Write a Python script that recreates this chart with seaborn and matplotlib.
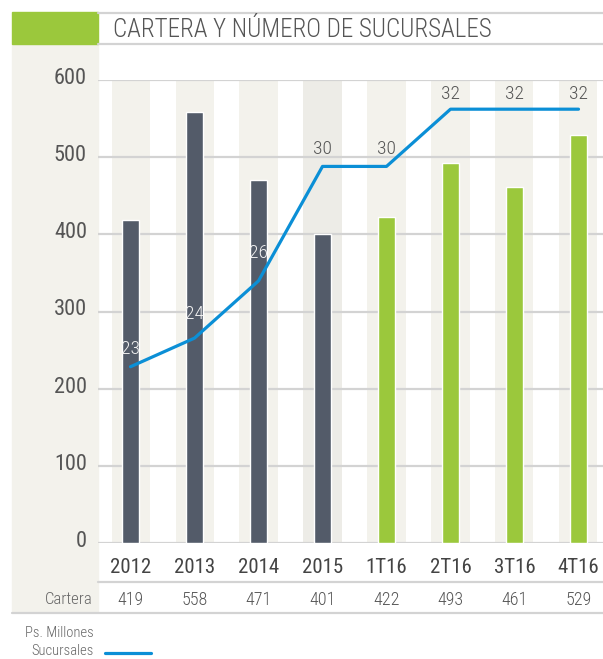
import numpy as np
import matplotlib
matplotlib.use("Agg")
import matplotlib.pyplot as plt
import seaborn as sns
from matplotlib import font_manager, transforms
from matplotlib.patches import Rectangle
from matplotlib.lines import Line2D

# ---- data ----
categories = ["2012", "2013", "2014", "2015", "1T16", "2T16", "3T16", "4T16"]
cartera = [419, 558, 471, 401, 422, 493, 461, 529]
sucursales = [23, 24, 26, 30, 30, 32, 32, 32]
periodo = ["Anual", "Anual", "Anual", "Anual",
           "Trimestral", "Trimestral", "Trimestral", "Trimestral"]
y_ticks = [0, 100, 200, 300, 400, 500, 600]

# ---- style ----
sns.set_theme(style="white")
available = {f.name for f in font_manager.fontManager.ttflist}
narrow = next((n for n in ["Liberation Sans Narrow", "Roboto Condensed"]
               if n in available), "Roboto")
plt.rcParams["font.family"] = [narrow, "DejaVu Sans"]
plt.rcParams["font.weight"] = "light"

DARK = "#535b69"
GREEN = "#9bc83c"
BLUE = "#0b8fd6"
BEIGE = "#f3f2ec"
BEIGE_DARK = "#edece7"
GRID = "#d3d3d3"
TEXT = "#555555"

W, H = 603, 659
fig = plt.figure(figsize=(W / 100, H / 100), dpi=100)


def fx(px):
    return px / W


def fy(py):
    return 1 - py / H


# left panel and header block
fig.add_artist(Rectangle((fx(12), fy(612)), fx(98) - fx(12), fy(44) - fy(612),
                         transform=fig.transFigure, color=BEIGE, zorder=0))
fig.add_artist(Rectangle((fx(12), fy(44)), fx(98) - fx(12), fy(12) - fy(44),
                         transform=fig.transFigure, color=GREEN, zorder=0))
for yy in (12.5, 44):
    fig.add_artist(Line2D([fx(98), 1], [fy(yy), fy(yy)], color=GRID, lw=1.6,
                          transform=fig.transFigure))
fig.text(fx(113), fy(30), "CARTERA Y NÚMERO DE SUCURSALES", fontsize=18,
         color=TEXT, va="center", ha="left")

# ---- main axes ----
ax = fig.add_axes([fx(98), fy(543), fx(603) - fx(98), fy(80) - fy(543)])
ax.set_facecolor("none")

for i, cat in enumerate(categories):
    ax.axvspan(i - 0.297, i + 0.297, color=BEIGE_DARK if cat == "2015" else BEIGE,
               zorder=0, lw=0)

sns.barplot(x=categories, y=cartera, hue=periodo,
            palette={"Anual": DARK, "Trimestral": GREEN},
            width=0.27, dodge=False, saturation=1, legend=False, ax=ax, zorder=2)

ax.set_ylim(0, 600)
ax.set_xlim(-0.508, 7.383)
ax.set_yticks(y_ticks)
ax.set_yticklabels([str(v) for v in y_ticks], fontsize=16, color=TEXT,
                   fontweight="normal")
ax.yaxis.grid(True, color=GRID, lw=1.6, zorder=1)
ax.set_axisbelow(True)
ax.tick_params(axis="y", length=0, pad=8)
ax.tick_params(axis="x", length=0, pad=11)
ax.set_xticks(range(len(categories)))
ax.set_xticklabels(categories, fontsize=15, color="#444444", fontweight="normal")
ax.set_xlabel("")
ax.set_ylabel("")
for s in ax.spines.values():
    s.set_visible(False)
lift = transforms.ScaledTranslation(0, 4 / 100, fig.dpi_scale_trans)
for lbl in ax.get_yticklabels():
    lbl.set_transform(lbl.get_transform() + lift)

# ---- branches line on a secondary scale ----
ax2 = ax.twinx()
x_pos = np.arange(len(categories))
sns.lineplot(x=x_pos, y=sucursales, ax=ax2, color=BLUE, lw=2.3)
ax2.set_ylim(16.84, 33.02)
ax2.set_xlim(-0.508, 7.383)
ax2.axis("off")

label_lift_px = [18, 24, 28, 17, 17, 15, 15, 15]
fig.canvas.draw()
for i, v in enumerate(sucursales):
    label_y = ax2.transData.transform((i, v))[1] + label_lift_px[i]
    bar_top = ax.transData.transform((i, cartera[i]))[1]
    color = "#f2f2f2" if label_y < bar_top else TEXT
    ax2.annotate(str(v), (i, v), xytext=(0, label_lift_px[i] * 0.72),
                 textcoords="offset points", ha="center", va="center",
                 fontsize=14, color=color, zorder=5)

# ---- table row under the axis ----
fig.add_artist(Line2D([fx(98), 1], [fy(582), fy(582)], color=GRID, lw=1.6,
                      transform=fig.transFigure))
fig.add_artist(Line2D([fx(12), 1], [fy(613), fy(613)], color=GRID, lw=1.6,
                      transform=fig.transFigure))
row = transforms.blended_transform_factory(ax.transData, fig.transFigure)
for i, v in enumerate(cartera):
    ax.text(i, fy(600), str(v), transform=row, ha="center", va="center",
            fontsize=13, color=TEXT, clip_on=False)
fig.text(fx(93), fy(600), "Cartera", ha="right", va="center", fontsize=12,
         color="#666666")

# ---- legend ----
fig.text(fx(94), fy(633), "Ps. Millones", ha="right", va="center",
         fontsize=10.5, color="#666666")
fig.text(fx(94), fy(651), "Sucursales", ha="right", va="center",
         fontsize=10.5, color="#666666")
fig.add_artist(Line2D([fx(105), fx(151)], [fy(653), fy(653)], color=BLUE, lw=2.3,
                      transform=fig.transFigure))

fig.savefig("out.png", dpi=100)
